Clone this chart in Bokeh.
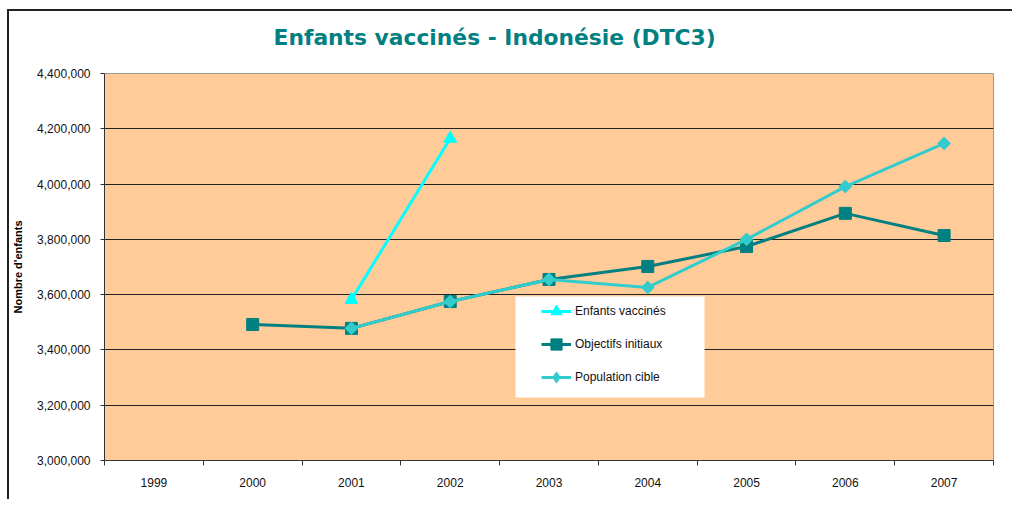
from bokeh.plotting import figure
from bokeh.models import (Range1d, FixedTicker, NumeralTickFormatter, Legend, LegendItem,
                          BoxAnnotation, Title)
from bokeh.embed import file_html
from bokeh.resources import INLINE

# ---- data ----
years = [1999, 2000, 2001, 2002, 2003, 2004, 2005, 2006, 2007]
y_ticks = [3000000, 3200000, 3400000, 3600000, 3800000, 4000000, 4200000, 4400000]

vacc_years = [2001, 2002]
vacc_values = [3582000, 4165000]

obj_years = [2000, 2001, 2002, 2003, 2004, 2005, 2006, 2007]
obj_values = [3492000, 3478000, 3575000, 3655000, 3702000, 3774000, 3894000, 3814000]

pop_years = [2001, 2002, 2003, 2004, 2005, 2006, 2007]
pop_values = [3478000, 3575000, 3655000, 3626000, 3800000, 3991000, 4147000]

title_text = "Enfants vaccinés - Indonésie (DTC3)"
y_label = "Nombre d'enfants"
names = ["Enfants vaccinés", "Objectifs initiaux", "Population cible"]

# ---- figure ----
p = figure(
    width=1005, height=490, title=None,
    x_range=Range1d(years[0] - 0.5, years[-1] + 0.5),
    y_range=Range1d(y_ticks[0], y_ticks[-1]),
    output_backend="svg", toolbar_location=None,
    min_border_left=95, min_border_top=62, min_border_right=21, min_border_bottom=41,
    background_fill_color="#FFCC99", border_fill_color="white",
    styles={"border-left": "2px solid #222", "border-top": "2px solid #222",
            "margin-left": "7px", "margin-top": "9px"},
)

# spacer between frame and title, then the title itself (further out)
spacer = Title(text=" ", text_font_size="10px", standoff=8)
p.add_layout(spacer, "above")
main_title = Title(text=title_text, text_font="DejaVu Sans", text_font_size="21.8px",
                   text_font_style="bold", text_color="#008080",
                   align="left", offset=169, standoff=6)
p.add_layout(main_title, "above")

p.outline_line_color = "#999999"
p.outline_line_width = 1

# grid
p.xgrid.visible = False
p.ygrid.ticker = FixedTicker(ticks=y_ticks[1:-1])
p.ygrid.grid_line_color = "#222222"
p.ygrid.grid_line_width = 1

# y axis
p.yaxis.ticker = FixedTicker(ticks=y_ticks)
p.yaxis.formatter = NumeralTickFormatter(format="0,0")
p.yaxis.major_label_text_font = "Liberation Sans"
p.yaxis.major_label_text_font_size = "12px"
p.yaxis.major_label_text_color = "#111111"
p.yaxis.major_tick_in = 0
p.yaxis.major_tick_out = 4
p.yaxis.minor_tick_in = 0
p.yaxis.minor_tick_out = 0
p.yaxis.major_label_standoff = 10
p.yaxis.axis_line_color = "#333333"
p.yaxis.major_tick_line_color = "#333333"
p.yaxis.axis_label = y_label
p.yaxis.axis_label_text_font = "Liberation Sans"
p.yaxis.axis_label_text_font_size = "11px"
p.yaxis.axis_label_text_font_style = "bold"
p.yaxis.axis_label_text_color = "#000000"
p.yaxis.axis_label_standoff = 10

# x axis
boundaries = [y - 0.5 for y in years] + [years[-1] + 0.5]
p.xaxis.ticker = FixedTicker(ticks=years, minor_ticks=boundaries)
p.xaxis.major_label_text_font = "Liberation Sans"
p.xaxis.major_label_text_font_size = "12px"
p.xaxis.major_label_text_color = "#111111"
p.xaxis.major_tick_in = 0
p.xaxis.major_tick_out = 0
p.xaxis.minor_tick_in = 0
p.xaxis.minor_tick_out = 5
p.xaxis.minor_tick_line_color = "#333333"
p.xaxis.axis_line_color = "#333333"
p.xaxis.major_label_standoff = 12

# series
c_vacc, c_obj, c_pop = "#00FFFF", "#008080", "#33CCCC"
l1 = p.line(vacc_years, vacc_values, color=c_vacc, line_width=3)
m1 = p.scatter(vacc_years, vacc_values, marker="triangle", size=13, color=c_vacc)

l2 = p.line(obj_years, obj_values, color=c_obj, line_width=3)
m2 = p.scatter(obj_years, obj_values, marker="square", size=12, color=c_obj)

l3 = p.line(pop_years, pop_values, color=c_pop, line_width=3)
m3 = p.scatter(pop_years, pop_values, marker="square", angle=0.785398, size=9, color=c_pop)
# diamond glyph used only for the legend swatch
m3_leg = p.scatter(pop_years, pop_values, marker="diamond", size=13, color=c_pop, visible=False)

# legend background box (screen units relative to the plot frame)
legend_bg = BoxAnnotation(left=411, right=600, bottom=63, top=164,
                          left_units="screen", right_units="screen",
                          bottom_units="screen", top_units="screen",
                          fill_color="white", fill_alpha=1, line_color=None)
p.add_layout(legend_bg)

# legend
lg = Legend(items=[
    LegendItem(label=names[0], renderers=[l1, m1]),
    LegendItem(label=names[1], renderers=[l2, m2]),
    LegendItem(label=names[2], renderers=[l3, m3_leg]),
])
lg.location = (437, 69)
lg.background_fill_alpha = 0
lg.border_line_color = None
lg.label_text_font = "Liberation Sans"
lg.label_text_font_size = "12px"
lg.label_text_color = "#111111"
lg.glyph_width = 30
lg.glyph_height = 28
lg.label_height = 20
lg.spacing = 5
lg.margin = 0
lg.label_standoff = 4
lg.label_width = 120
p.add_layout(lg, "center")

open("out.html", "w").write(file_html(p, INLINE))
